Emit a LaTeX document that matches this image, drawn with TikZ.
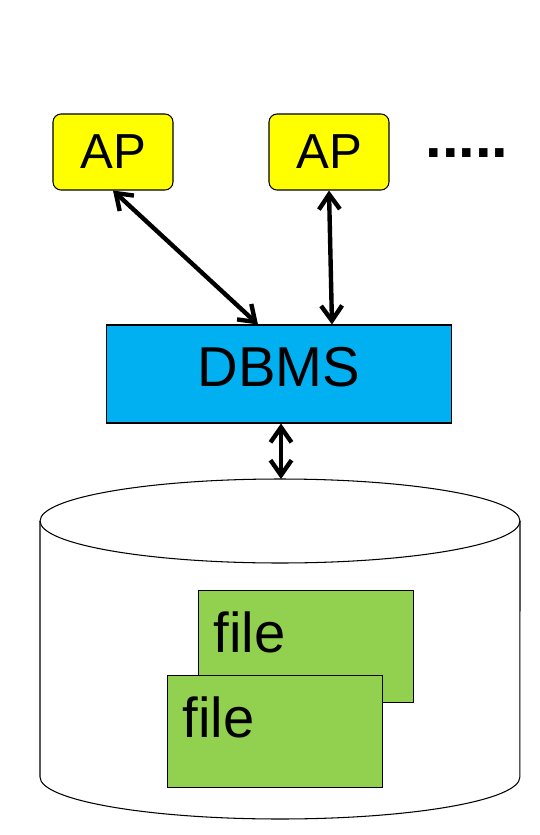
\documentclass[tikz,border=0pt]{standalone}
\usepackage{fontspec}
\setmainfont{Liberation Sans}
\usetikzlibrary{positioning, arrows.meta}

\definecolor{apyellow}{HTML}{FFFF00}
\definecolor{dbcyan}{HTML}{00B0F0}
\definecolor{filegreen}{HTML}{92D050}

\begin{document}
\begin{tikzpicture}[
        x=0.02cm, y=-0.02cm,
        apbox/.style={draw, fill=apyellow, rounded corners=0.16cm, minimum width=2.4cm, minimum height=1.52cm, inner sep=0pt, font=\fontsize{28}{32}\selectfont},
        dbbox/.style={draw, fill=dbcyan, minimum width=6.92cm, minimum height=1.96cm, inner sep=0pt, text depth=0.28cm, font=\fontsize{32}{36}\selectfont},
        filebox/.style={draw, fill=filegreen, anchor=north west, inner xsep=0.3cm, inner ysep=0pt, text width=3.7cm, text height=1.24cm, text depth=1cm, align=left, font=\fontsize{32}{36}\selectfont},
        link/.style={{Straight Barb[length=0.3cm, width=0.42cm]}-{Straight Barb[length=0.3cm, width=0.42cm]}, line width=2.5pt},
        semithick
    ]
    \useasboundingbox (0,0) rectangle (540,835);

    %% ---- Application programs ----
    \node[apbox] (ap1) at (113,152) {AP};
    \node[apbox] (ap2) at (329,152) {AP};
    \node[anchor=base west, inner sep=0pt, font=\fontsize{34}{38}\selectfont\bfseries] (more) at (425,157) {.....};

    %% ---- DBMS ----
    \node[dbbox] (dbms) at (279,374) {DBMS};

    %% ---- Database (cylinder) ----
    \draw[fill=white] (280,521) ellipse [x radius=4.8cm, y radius=0.84cm];
    \draw (40,521) -- (40,777) arc[start angle=180, end angle=360, x radius=4.8cm, y radius=0.84cm] -- (520,521);
    \coordinate (dbtop) at (281,479);

    %% ---- Files ----
    \node[filebox] (file2) at (198,590) {file};
    \node[filebox] (file1) at (167,675) {file};

    %% ---- Connections ----
    \draw[link] (ap1.south) -- ([xshift=-0.42cm] dbms.north);
    \draw[link] (ap2.south) -- ([xshift=0.06cm] ap2.south |- dbms.north);
    \draw[link] (dbtop |- dbms.south) -- (dbtop);

\end{tikzpicture}
\end{document}
